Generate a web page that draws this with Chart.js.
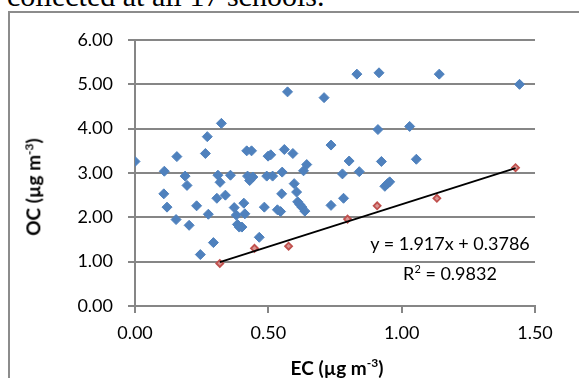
<!DOCTYPE html>
<html>
<head>
<meta charset="utf-8">
<script src="https://cdn.jsdelivr.net/npm/chart.js@4.4.0/dist/chart.umd.min.js"></script>
<style>
body { margin:0; background:#fff; width:579px; height:378px; overflow:hidden; position:relative; }
#caption { position:absolute; left:7px; top:-19px; font-family:"Liberation Serif","Times New Roman",serif; font-size:30px; line-height:1; white-space:nowrap; color:#000; }
#frame { position:absolute; left:8px; top:11px; width:600px; height:400px; border:2px solid #8c8c8c; }
#wrap { position:absolute; left:0; top:0; width:579px; height:378px; }
.ttl { position:absolute; font-family:Lato,sans-serif; font-weight:bold; font-size:19px; white-space:nowrap; color:#000; }
.ttl sup { font-size:12px; }
#ytitle { left:33px; top:187px; transform:translate(-50%,-50%) rotate(-90deg); }
#xtitle { left:337px; top:367px; transform:translate(-50%,-50%); }
#eq { position:absolute; left:450px; top:258px; transform:translate(-50%,-50%); font-family:Lato,sans-serif; font-size:18px; line-height:26px; text-align:center; white-space:nowrap; color:#000; }
#eq sup { font-size:11px; }
</style>
</head>
<body>
<div id="caption">collected at all 17 schools.</div>
<div id="frame"></div>
<div id="wrap"><canvas id="oc_ec" width="579" height="378"></canvas></div>
<div class="ttl" id="ytitle">OC (µg m<sup>-3</sup>)</div>
<div class="ttl" id="xtitle">EC (µg m<sup>-3</sup>)</div>
<div id="eq">y = 1.917x + 0.3786<br>R<sup>2</sup> = 0.9832</div>
<script>
// all schools
var ec_all = [0.00,0.11,0.108,0.12,0.157,0.154,0.188,0.195,0.203,0.231,0.245,0.264,0.271,0.275,0.294,0.307,0.311,0.319,0.324,0.339,
    0.358,0.372,0.380,0.384,0.391,0.401,0.408,0.412,0.419,0.422,0.430,0.437,0.442,0.466,0.485,0.494,0.499,0.509,0.516,0.534,
    0.546,0.550,0.552,0.560,0.572,0.592,0.597,0.606,0.610,0.618,0.626,0.632,0.637,0.644,0.709,0.735,0.735,0.778,0.782,0.803,
    0.832,0.841,0.911,0.915,0.924,0.937,0.947,0.955,1.030,1.055,1.141,1.442];
var oc_all = [3.26,3.04,2.53,2.23,3.37,1.95,2.93,2.72,1.82,2.26,1.16,3.44,3.82,2.07,1.43,2.43,2.95,2.79,4.12,2.50,
    2.95,2.22,2.05,1.84,1.78,1.78,2.32,2.08,3.50,2.93,2.83,3.50,2.91,1.55,2.23,2.93,3.38,3.41,2.93,2.17,
    2.13,2.53,3.02,3.53,4.83,3.44,2.76,2.57,2.35,2.29,2.23,3.05,2.14,3.19,4.70,3.63,2.27,2.98,2.43,3.27,
    5.23,3.03,3.98,5.26,3.26,2.70,2.76,2.80,4.05,3.31,5.23,5.00];

// the points used for the fit
var ec_fit = [0.318,0.448,0.576,0.797,0.908,1.132,1.427];
var oc_fit = [0.96,1.30,1.35,1.96,2.26,2.43,3.12];

// trendline ends
var trend_x = [0.318,1.427];
var trend_y = [0.99,3.11];

var xticks = [0,0.5,1,1.5];

var i;
var all_pts=[];
for(i=0 ; i<ec_all.length ; i++){
    all_pts.push({x:ec_all[i], y:oc_all[i]});
}
var fit_pts=[];
for(i=0 ; i<ec_fit.length ; i++){
    fit_pts.push({x:ec_fit[i], y:oc_fit[i]});
}
var trend_pts=[];
for(i=0 ; i<trend_x.length ; i++){
    trend_pts.push({x:trend_x[i], y:trend_y[i]});
}

var gridGrey = '#868686';
var tickFont = {family:'Lato', size:18};

var ctx = document.getElementById('oc_ec').getContext("2d");
new Chart(ctx, {
    type: 'scatter',
    data: {
        datasets: [{
            label:'All',
            data: all_pts,
            pointStyle:'rectRot',
            pointRadius:5,
            pointHoverRadius:5,
            backgroundColor:'#4F81BD',
            borderColor:'#4F81BD',
            borderWidth:1
        },
        {
            label:'Trend',
            type:'line',
            data: trend_pts,
            borderColor:'#000',
            borderWidth:1.8,
            pointRadius:0,
            fill:false
        },
        {
            label:'Fit',
            data: fit_pts,
            pointStyle:'rectRot',
            pointRadius:3.5,
            pointHoverRadius:3.5,
            backgroundColor:'#d99694',
            borderColor:'#C0504D',
            borderWidth:1.8
        }]
    },
    options: {
        responsive:false,
        animation:false,
        events:[],
        layout:{ padding:{left:0, top:40, right:44, bottom:0} },
        plugins:{ legend:{display:false}, tooltip:{enabled:false} },
        scales:{
            x:{
                type:'linear',
                min:0, max:1.5,
                afterFit:function(scale){ scale.height = 72; },
                afterBuildTicks:function(scale){ scale.ticks = xticks.map(function(v){ return {value:v}; }); },
                grid:{ drawOnChartArea:false, drawTicks:true, tickLength:7, color:gridGrey, lineWidth:2 },
                border:{ display:true, color:gridGrey, width:2 },
                ticks:{ font:tickFont, color:'#000', padding:9, maxRotation:0,
                    callback:function(v){ return v.toFixed(2); } }
            },
            y:{
                type:'linear',
                min:0, max:6,
                afterFit:function(scale){ scale.width = 135; },
                grid:{ drawOnChartArea:true, drawTicks:true, tickLength:7, color:gridGrey, lineWidth:2 },
                border:{ display:true, color:gridGrey, width:2 },
                ticks:{ font:tickFont, color:'#000', padding:15, stepSize:1,
                    callback:function(v){ return v.toFixed(2); } }
            }
        }
    }
});
</script>
</body>
</html>
